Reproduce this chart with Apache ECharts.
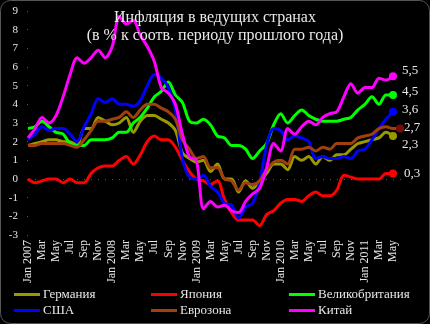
<!DOCTYPE html>
<html>
<head>
<meta charset="utf-8">
<script src="https://cdn.jsdelivr.net/npm/echarts@6/dist/echarts.min.js"></script>
<style>
html,body{margin:0;padding:0;background:#000;}
#c{width:430px;height:324px;}
</style>
</head>
<body>
<div id="c"></div>
<script>
const categories = [
 'Jan 2007','Feb','Mar','Apr','May','Jun','Jul','Aug','Sep','Oct','Nov','Dec',
 'Jan 2008','Feb','Mar','Apr','May','Jun','Jul','Aug','Sep','Oct','Nov','Dec',
 'Jan 2009','Feb','Mar','Apr','May','Jun','Jul','Aug','Sep','Oct','Nov','Dec',
 'Jan 2010','Feb','Mar','Apr','May','Jun','Jul','Aug','Sep','Oct','Nov','Dec',
 'Jan 2011','Feb','Mar','Apr','May','Jun'
];
const yTicks = [-3,-2,-1,0,1,2,3,4,5,6,7,8,9];

const germany = [1.8,1.9,2.0,2.1,2.1,2.0,2.0,1.8,2.7,2.7,3.3,3.1,
 2.9,3.0,3.3,2.5,3.1,3.4,3.4,3.2,3.0,2.6,1.4,1.1,
 0.9,1.0,0.4,0.8,0.0,0.0,-0.7,-0.1,-0.5,-0.1,0.3,0.8,
 0.8,0.5,1.2,1.0,1.2,0.8,1.2,1.0,1.3,1.3,1.6,1.9,
 2.0,2.1,2.2,2.5,2.3];
const japan = [0.0,-0.2,-0.1,0.0,0.0,-0.2,0.0,-0.2,-0.2,0.3,0.6,0.7,
 0.7,1.0,1.2,0.8,1.3,2.0,2.3,2.1,2.1,1.7,1.0,0.4,
 0.0,-0.1,-0.3,-0.1,-1.1,-1.8,-2.2,-2.2,-2.2,-2.5,-1.9,-1.7,
 -1.3,-1.1,-1.1,-1.2,-0.9,-0.7,-0.9,-0.9,-0.6,0.2,0.1,0.0,
 0.0,0.0,0.0,0.3,0.3];
const uk = [2.7,2.8,3.1,2.8,2.5,2.4,1.9,1.8,1.8,2.1,2.1,2.1,
 2.2,2.5,2.5,3.0,3.3,3.8,4.4,4.7,5.2,4.5,4.1,3.1,
 3.0,3.2,2.9,2.3,2.2,1.8,1.8,1.6,1.1,1.5,1.9,2.9,
 3.5,3.0,3.4,3.7,3.4,3.2,3.1,3.1,3.1,3.2,3.3,3.7,
 4.0,4.4,4.0,4.5,4.5];
const usa = [2.1,2.4,2.8,2.6,2.7,2.7,2.4,2.0,2.8,3.5,4.3,4.1,
 4.3,4.0,4.0,3.9,4.2,5.0,5.6,5.4,4.9,3.7,1.1,0.1,
 0.0,0.2,-0.4,-0.7,-1.3,-1.4,-2.1,-1.5,-1.3,-0.2,1.8,2.7,
 2.6,2.1,2.3,2.2,2.0,1.1,1.2,1.1,1.1,1.2,1.1,1.5,
 1.6,2.1,2.7,3.2,3.6];
const euro = [1.8,1.8,1.9,1.9,1.9,1.9,1.8,1.7,2.1,2.6,3.1,3.1,
 3.2,3.3,3.6,3.3,3.7,4.0,4.0,3.8,3.6,3.2,2.1,1.6,
 1.1,1.2,0.6,0.6,0.0,-0.1,-0.6,-0.2,-0.3,-0.1,0.5,0.9,
 1.0,0.8,1.6,1.6,1.7,1.5,1.7,1.6,1.9,1.9,1.9,2.2,
 2.3,2.4,2.7,2.8,2.7,2.7];
const china = [2.2,2.7,3.3,3.0,3.4,4.4,5.6,6.5,6.2,6.5,6.9,6.5,
 7.1,8.7,8.3,8.5,7.7,7.1,6.3,4.9,4.6,4.0,2.4,1.2,
 1.0,-1.6,-1.2,-1.5,-1.4,-1.7,-1.8,-1.2,-0.8,-0.5,0.6,1.9,
 1.5,2.7,2.4,2.8,3.1,2.9,3.3,3.5,3.6,4.4,5.1,4.6,
 4.9,4.9,5.4,5.3,5.5];

const names = ['Германия','Япония','Великобритания','США','Еврозона','Китай'];
const FONT = 'Liberation Serif';

function mk(name, arr, color, dotColor, dy, dist){
  const last = arr.length - 1;
  return {
    name: name, type: 'line', smooth: 0.3,
    symbol: 'circle', symbolSize: 0, showAllSymbol: true,
    lineStyle: {color: color, width: 3},
    itemStyle: {color: color},
    label: {show: false},
    emphasis: {disabled: true},
    data: arr.map((v, i) => i === last ? {
      value: v, symbolSize: 8,
      itemStyle: {color: dotColor},
      label: {show: true, position: 'right', distance: dist, offset: [0, dy],
        color: '#e8e8e8', fontFamily: FONT, fontSize: 13,
        formatter: p => String(p.value).replace('.', ',')}
    } : v)
  };
}

function lg(name, left, top){
  return {
    data: [name], left: left, top: top, orient: 'horizontal',
    icon: 'rect', itemWidth: 26, itemHeight: 3, padding: 0, itemGap: 0,
    textStyle: {color: '#e8e8e8', fontFamily: FONT, fontSize: 13, padding: [0, 0, 0, -2]},
    selectedMode: false
  };
}

const chart = echarts.init(document.getElementById('c'));
chart.setOption({
  backgroundColor: '#000',
  animation: false,
  title: {
    text: 'Инфляция в ведущих странах\n(в % к соотв. периоду прошлого года)',
    left: 'center', top: 4,
    textStyle: {color: '#e8e8e8', fontFamily: FONT, fontSize: 16, fontWeight: 'normal', lineHeight: 18}
  },
  graphic: [{
    type: 'rect', shape: {x: 0.5, y: 0.5, width: 429, height: 323, r: 10},
    style: {fill: 'none', stroke: '#555', lineWidth: 1}, silent: true
  }],
  legend: [
    lg(names[0], 14, 288), lg(names[1], 151, 288), lg(names[2], 289, 288),
    lg(names[3], 14, 304), lg(names[4], 151, 304), lg(names[5], 289, 304)
  ],
  grid: {left: 28, right: 30, top: 11, bottom: 89},
  xAxis: {
    type: 'category', data: categories, boundaryGap: false,
    axisLine: {show: false},
    axisTick: {show: true, interval: 0, length: 1, lineStyle: {color: '#555'}},
    axisLabel: {interval: 1, rotate: 90, color: '#e8e8e8', fontFamily: FONT, fontSize: 12, margin: 5}
  },
  yAxis: {
    type: 'value', min: yTicks[0], max: yTicks[yTicks.length - 1], interval: 1,
    axisLine: {show: false},
    axisTick: {show: true, length: 1, lineStyle: {color: '#555'}},
    splitLine: {show: false},
    axisLabel: {color: '#e8e8e8', fontFamily: FONT, fontSize: 11, margin: 10}
  },
  series: [
    mk(names[0], germany, '#999900', '#999900', 9, 5),
    mk(names[1], japan, '#ff0000', '#ff0000', 0, 7),
    mk(names[2], uk, '#00ff00', '#00ff00', -3, 5),
    mk(names[3], usa, '#0000ff', '#0000ff', -2, 5),
    mk(names[4], euro, '#a0400c', '#7a0a0a', -1, 0),
    mk(names[5], china, '#ff00ff', '#ff00ff', -6, 5)
  ]
});
</script>
</body>
</html>
